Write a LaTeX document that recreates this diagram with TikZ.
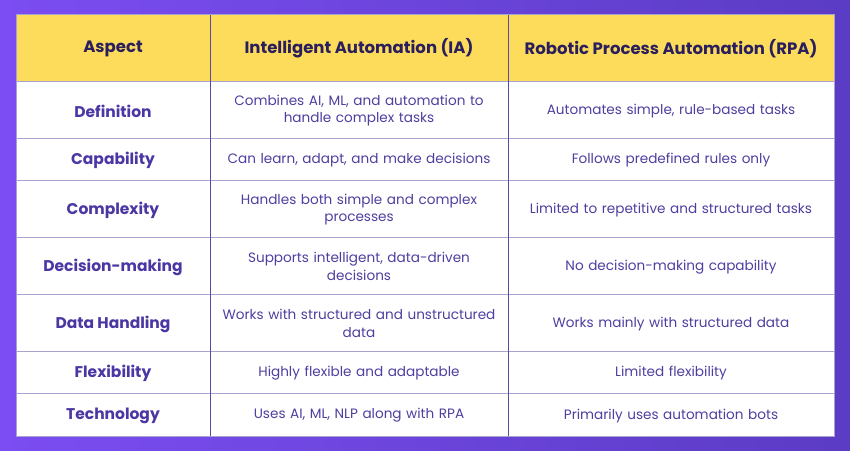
\documentclass[tikz,border=0pt]{standalone}
\usepackage{fontspec}
\setmainfont{Poppins}
\definecolor{bgL}{HTML}{7B4DF2}
\definecolor{bgR}{HTML}{5B3CC4}
\definecolor{hdr}{HTML}{FDDC5C}
\definecolor{hdrtxt}{HTML}{2A1F5C}
\definecolor{asp}{HTML}{4B36A3}
\definecolor{body}{HTML}{4F3FA0}
\definecolor{grid}{HTML}{A9A2CF}
\definecolor{vgrid}{HTML}{5A4AA8}
\begin{document}
\begin{tikzpicture}[x=1pt,y=-1pt,
  h/.style={font=\fontsize{16.5}{19}\selectfont\bfseries, text=hdrtxt, align=center},
  a/.style={font=\fontsize{15.5}{18}\selectfont\bfseries, text=asp, align=center},
  b/.style={font=\fontsize{13.6}{17.5}\selectfont, text=body, align=center, text width=290pt}]
\useasboundingbox (0,0) rectangle (850,450);
\shade[left color=bgL, right color=bgR] (0,0) rectangle (850,450);
\fill[white] (16,81) rectangle (834,436);
\fill[hdr] (16,14) rectangle (834,81);
\foreach \y in {138,180,237,294,351,393} \draw[grid,line width=1pt] (16,\y) -- (834,\y);
\draw[grid,line width=1pt] (16,81) -- (834,81);
\foreach \x in {210,508} \draw[vgrid,line width=0.8pt] (\x,14) -- (\x,436);
\draw[grid,line width=1pt] (16,14) rectangle (834,436);
\node[h] (h1) at (113,48.5) {Aspect};
\node[h] (h2) at (359,48.5) {Intelligent Automation (IA)};
\node[h] (h3) at (671,48.5) {Robotic Process Automation (RPA)};
\newcommand{\rowx}[5]{%
  \node[a] (a#1) at (113,#2+1.5) {#3};
  \node[b] (i#1) at (359,#2+1) {#4};
  \node[b] (r#1) at (671,#2+1.5) {#5};}
\rowx{1}{109.5}{Definition}{Combines AI, ML, and automation to\\handle complex tasks}{Automates simple, rule-based tasks}
\rowx{2}{159}{Capability}{Can learn, adapt, and make decisions}{Follows predefined rules only}
\rowx{3}{208.5}{Complexity}{Handles both simple and complex\\processes}{Limited to repetitive and structured tasks}
\rowx{4}{265.5}{Decision-making}{Supports intelligent, data-driven\\decisions}{No decision-making capability}
\rowx{5}{322.5}{Data Handling}{Works with structured and unstructured\\data}{Works mainly with structured data}
\rowx{6}{372}{Flexibility}{Highly flexible and adaptable}{Limited flexibility}
\rowx{7}{414.5}{Technology}{Uses AI, ML, NLP along with RPA}{Primarily uses automation bots}
\end{tikzpicture}
\end{document}
